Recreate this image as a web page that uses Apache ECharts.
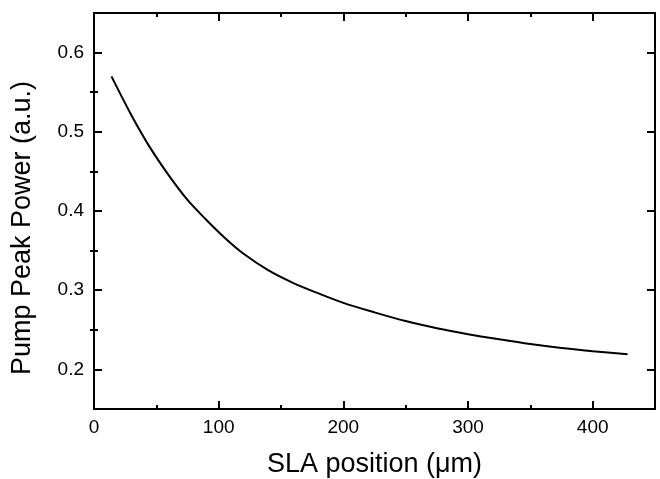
<!DOCTYPE html>
<html>
<head>
<meta charset="utf-8">
<script src="https://cdn.jsdelivr.net/npm/echarts@6/dist/echarts.min.js"></script>
<style>html,body{margin:0;padding:0;background:#fff}#c{width:660px;height:479px}</style>
</head>
<body>
<div id="c"></div>
<script>
const slaPosition = [14, 30, 45, 60, 75, 90, 105, 120, 140, 160, 180, 200, 225, 250, 275, 300, 325, 350, 375, 400, 428];
const pumpPeakPower = [0.570, 0.521, 0.480, 0.445, 0.414, 0.389, 0.366, 0.346, 0.325, 0.309, 0.296, 0.284, 0.272, 0.261, 0.252, 0.2445, 0.238, 0.232, 0.227, 0.223, 0.219];
const yMajorTicks = [0.2, 0.3, 0.4, 0.5, 0.6];
const yMinorTicks = [0.25, 0.35, 0.45, 0.55];
const xTitle = 'SLA position (\u03bcm)';
const yTitle = 'Pump Peak Power (a.u.)';

const FONT = 'Liberation Sans, Arial, sans-serif';
const black = '#000';

function yAxisDef(pos, ticks, len, withLabel, withLine, withName) {
  return {
    type: 'value', position: pos, min: 0.15, max: 0.65,
    splitLine: { show: false },
    axisLine: withLine ? { show: true, onZero: false, lineStyle: { color: black, width: 2 } } : { show: false },
    axisTick: { show: true, inside: true, length: len, customValues: ticks, lineStyle: { color: black, width: 2 } },
    axisLabel: withLabel ? { show: true, customValues: ticks, margin: 10, color: black, fontFamily: FONT, fontSize: 19,
      formatter: v => Number(v).toFixed(1) } : { show: false },
    name: withName ? yTitle : '',
    nameLocation: 'middle', nameGap: 58,
    nameTextStyle: { color: black, fontFamily: FONT, fontSize: 27, padding: [0, 34, 0, 0] }
  };
}
function xAxisDef(pos, withLabel, withName) {
  return {
    type: 'value', position: pos, min: 0, max: 450, interval: 100,
    splitLine: { show: false },
    axisLine: { show: true, onZero: false, lineStyle: { color: black, width: 2 } },
    axisTick: { show: true, inside: true, length: 8, lineStyle: { color: black, width: 2 } },
    minorTick: { show: true, splitNumber: 2, length: 4, lineStyle: { color: black, width: 2 } },
    axisLabel: withLabel ? { show: true, margin: 9, color: black, fontFamily: FONT, fontSize: 19,
      showMaxLabel: false } : { show: false },
    name: withName ? xTitle : '',
    nameLocation: 'middle', nameGap: 42,
    nameTextStyle: { color: black, fontFamily: FONT, fontSize: 27 }
  };
}

const chart = echarts.init(document.getElementById('c'));
chart.setOption({
  animation: false,
  backgroundColor: '#fff',
  grid: { left: 94, right: 5, top: 13, bottom: 70, outerBoundsMode: 'none', containLabel: false },
  xAxis: [xAxisDef('bottom', true, true), xAxisDef('top', false, false)],
  yAxis: [
    yAxisDef('left', yMajorTicks, 8, true, true, true),
    yAxisDef('left', yMinorTicks, 4, false, false, false),
    yAxisDef('right', yMajorTicks, 8, false, true, false),
    yAxisDef('right', yMinorTicks, 4, false, false, false)
  ],
  series: [{
    type: 'line', xAxisIndex: 0, yAxisIndex: 0,
    data: slaPosition.map((x, i) => [x, pumpPeakPower[i]]),
    smooth: 0.3, showSymbol: false,
    lineStyle: { color: black, width: 2 }
  }]
});
</script>
</body>
</html>
